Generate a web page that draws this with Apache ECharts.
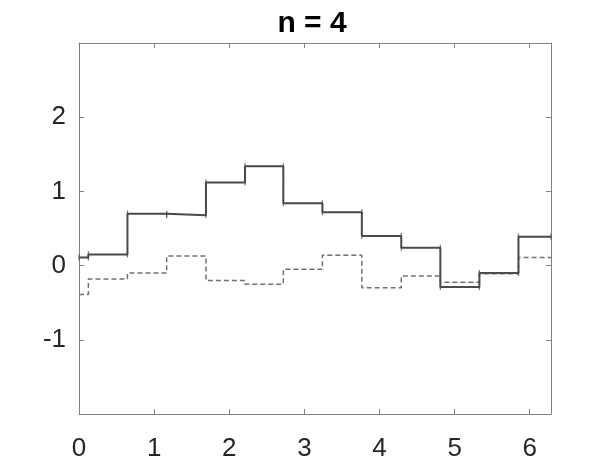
<!DOCTYPE html>
<html lang="en">
<head>
    <meta charset="UTF-8">
    <title>n = 4</title>
    <script src="https://cdn.jsdelivr.net/npm/echarts@6/dist/echarts.min.js"></script>
    <style>
        * {
            margin: 0;
            padding: 0;
        }

        html,
        body {
            width: 100%;
            height: 100%;
            background: #fff;
        }
    </style>
</head>
<body>
    <div id="main" style="width: 606px;height:466px;"></div>
<script>
    // step edges along x (last one is the right end of the axis, ~2*pi)
    var xEdges = [0, 0.125, 0.645, 1.167, 1.69, 2.21, 2.72, 3.24, 3.765, 4.29, 4.81, 5.33, 5.85, 6.283];
    // value held on each step
    var solidValues = [0.11, 0.15, 0.70, 0.68, 1.12, 1.34, 0.84, 0.72, 0.40, 0.24, -0.29, -0.10, 0.39];
    var dashedValues = [-0.39, -0.18, -0.10, 0.13, -0.20, -0.25, -0.05, 0.14, -0.30, -0.14, -0.225, -0.11, 0.11];
    var xTickLabels = ['0', '1', '2', '3', '4', '5', '6'];
    var yTickLabels = ['-1', '0', '1', '2'];

    var font = "'Liberation Sans', Arial, Helvetica, sans-serif";
    var axisColor = '#808080';

    // points for a step:'end' line
    function stepData(vals) {
        var res = [];
        for (var i = 0; i < vals.length; i++) {
            res.push([xEdges[i], vals[i]]);
        }
        res.push([xEdges[vals.length], vals[vals.length - 1]]);
        return res;
    }

    // little end marks on both ends of every flat piece
    function endMarks(vals) {
        var res = [];
        for (var i = 0; i < vals.length; i++) {
            res.push([xEdges[i], vals[i]]);
            res.push([xEdges[i + 1], vals[i]]);
        }
        return res;
    }

    function baseAxis(pos, show, min, max, labels) {
        return {
            type: 'value',
            position: pos,
            min: min,
            max: max,
            interval: 1,
            axisLine: { show: true, onZero: false, lineStyle: { color: axisColor, width: 1 } },
            axisTick: { show: true, inside: true, length: 5, lineStyle: { color: axisColor } },
            splitLine: { show: false },
            axisLabel: {
                show: show,
                showMinLabel: pos === 'left' ? false : true,
                showMaxLabel: false,
                margin: pos === 'left' ? 13 : 22,
                color: '#262626',
                fontFamily: font,
                fontSize: 26,
                formatter: function (v) {
                    var s = String(Math.round(v));
                    return labels.indexOf(s) >= 0 ? s : '';
                }
            }
        };
    }

    var myChart = echarts.init(document.getElementById('main'));
    myChart.setOption({
        animation: false,
        backgroundColor: '#fff',
        title: {
            text: 'n = 4',
            left: 307,
            textAlign: 'center',
            top: 4,
            textStyle: {
                fontFamily: font,
                fontSize: 30,
                fontWeight: 'bold',
                color: '#000'
            }
        },
        grid: {
            left: 79,
            right: 55,
            top: 43,
            bottom: 52
        },
        xAxis: [
            baseAxis('bottom', true, 0, 6.283, xTickLabels),
            baseAxis('top', false, 0, 6.283, xTickLabels)
        ],
        yAxis: [
            baseAxis('left', true, -2, 3, yTickLabels),
            baseAxis('right', false, -2, 3, yTickLabels)
        ],
        series: [
            {
                type: 'line',
                step: 'end',
                data: stepData(dashedValues),
                showSymbol: false,
                lineStyle: { color: '#707070', width: 1.5, type: [5, 3] },
                z: 2
            },
            {
                type: 'line',
                step: 'end',
                data: stepData(solidValues),
                showSymbol: false,
                lineStyle: { color: '#4a4a4a', width: 2 },
                z: 3
            },
            {
                type: 'scatter',
                data: endMarks(solidValues),
                symbol: 'rect',
                symbolSize: [1.2, 6],
                itemStyle: { color: '#4a4a4a' },
                z: 3
            }
        ]
    });
</script>
</body>
</html>
